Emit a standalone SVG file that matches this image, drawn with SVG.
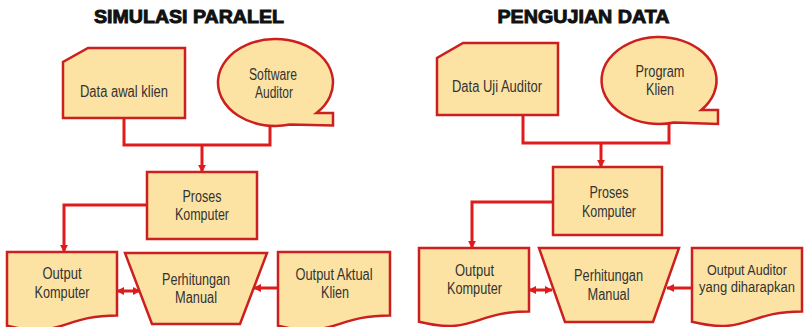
<svg xmlns="http://www.w3.org/2000/svg" width="804" height="327" viewBox="0 0 804 327">
  <style>
    .shape { fill: #FCE3A4; stroke: #CC1F1F; stroke-width: 2.5; stroke-linejoin: miter; }
    .title { font-family: "Liberation Sans", Arial, sans-serif; font-weight: bold; font-size: 18px; fill: #111; stroke: #111; stroke-width: 0.9; text-anchor: middle; }
    .lbl { font-family: "Liberation Sans", Arial, sans-serif; font-size: 16px; fill: #333; text-anchor: middle; }
    .lbl.sm { font-size: 15px; }
    .lbl.xs { font-size: 14px; }
    .wire { fill: none; stroke: #E01B1B; stroke-width: 3; }
  </style>
  <defs>
    <marker id="arrow" viewBox="0 0 10 10" refX="9" refY="5" markerWidth="8" markerHeight="8" markerUnits="userSpaceOnUse" orient="auto-start-reverse">
      <path d="M0,0 L10,5 L0,10 Z" fill="#E01B1B"/>
    </marker>
  </defs>

  <rect width="804" height="327" fill="#ffffff"/>

  <!-- Titles -->
  <text class="title" x="189" y="23" textLength="190" lengthAdjust="spacingAndGlyphs">SIMULASI PARALEL</text>
  <text class="title" x="583.5" y="23" textLength="172" lengthAdjust="spacingAndGlyphs">PENGUJIAN DATA</text>

  <!-- Connectors -->
  <g id="connectors">
    <path class="wire" d="M124,118 V145 H270 V125"/>
    <path class="wire" d="M202,145 V172" marker-end="url(#arrow)"/>
    <path class="wire" d="M147,205 H64 V252" marker-end="url(#arrow)"/>
    <path class="wire" d="M117,291 H140" marker-start="url(#arrow)" marker-end="url(#arrow)"/>
    <path class="wire" d="M278,288 H254" marker-end="url(#arrow)"/>

    <path class="wire" d="M523,115 V143 H669 V123"/>
    <path class="wire" d="M601,143 V167" marker-end="url(#arrow)"/>
    <path class="wire" d="M553,202 H472 V248" marker-end="url(#arrow)"/>
    <path class="wire" d="M529,290 H552" marker-start="url(#arrow)" marker-end="url(#arrow)"/>
    <path class="wire" d="M692,288 H667" marker-end="url(#arrow)"/>
  </g>

  <!-- Simulasi paralel -->
  <g id="data-awal-klien">
    <path class="shape" d="M88,48 H185 V118 H63 V62 Z"/>
    <text class="lbl" x="124" y="97" textLength="88" lengthAdjust="spacingAndGlyphs">Data awal klien</text>
  </g>
  <g id="software-auditor">
    <path class="shape" d="M316.5,113 H333 V125.5 L290,124.6 A57.5,43.5 0 1 1 316.5,113 Z"/>
    <text class="lbl" x="273" y="80" textLength="48" lengthAdjust="spacingAndGlyphs">Software</text>
    <text class="lbl" x="274" y="98" textLength="38" lengthAdjust="spacingAndGlyphs">Auditor</text>
  </g>
  <g id="proses-komputer-1">
    <rect class="shape" x="147" y="172" width="110" height="67"/>
    <text class="lbl" x="202" y="202" textLength="39" lengthAdjust="spacingAndGlyphs">Proses</text>
    <text class="lbl" x="202" y="220" textLength="54" lengthAdjust="spacingAndGlyphs">Komputer</text>
  </g>
  <g id="output-komputer-1">
    <path class="shape" d="M7,252 H117 V315.4 C62,315.4 62,339.5 7,325.8 Z"/>
    <text class="lbl" x="62" y="279" textLength="39" lengthAdjust="spacingAndGlyphs">Output</text>
    <text class="lbl" x="62" y="298" textLength="55" lengthAdjust="spacingAndGlyphs">Komputer</text>
  </g>
  <g id="perhitungan-manual-1">
    <path class="shape" d="M125,253 H267 L240,324 H152 Z"/>
    <text class="lbl" x="196" y="285" textLength="68" lengthAdjust="spacingAndGlyphs">Perhitungan</text>
    <text class="lbl" x="196" y="303" textLength="42" lengthAdjust="spacingAndGlyphs">Manual</text>
  </g>
  <g id="output-aktual-klien">
    <path class="shape" d="M278,252 H390 V315.4 C334,315.4 334,339.5 278,325.8 Z"/>
    <text class="lbl" x="334" y="280" textLength="77" lengthAdjust="spacingAndGlyphs">Output Aktual</text>
    <text class="lbl" x="335" y="298" textLength="28" lengthAdjust="spacingAndGlyphs">Klien</text>
  </g>

  <!-- Pengujian data -->
  <g id="data-uji-auditor">
    <path class="shape" d="M463,43 H558 V115 H437 V58 Z"/>
    <text class="lbl" x="497" y="92" textLength="90" lengthAdjust="spacingAndGlyphs">Data Uji Auditor</text>
  </g>
  <g id="program-klien">
    <path class="shape" d="M701.3,110 H718 V124 L674,122.5 A57.5,43.5 0 1 1 701.3,110 Z"/>
    <text class="lbl" x="660" y="77" textLength="49" lengthAdjust="spacingAndGlyphs">Program</text>
    <text class="lbl" x="660" y="95" textLength="28" lengthAdjust="spacingAndGlyphs">Klien</text>
  </g>
  <g id="proses-komputer-2">
    <rect class="shape" x="553" y="167" width="109" height="68"/>
    <text class="lbl" x="609" y="198" textLength="39" lengthAdjust="spacingAndGlyphs">Proses</text>
    <text class="lbl" x="609" y="217" textLength="54" lengthAdjust="spacingAndGlyphs">Komputer</text>
  </g>
  <g id="output-komputer-2">
    <path class="shape" d="M419,248 H529 V311.4 C474,311.4 474,335.5 419,321.8 Z"/>
    <text class="lbl" x="474.5" y="276" textLength="39" lengthAdjust="spacingAndGlyphs">Output</text>
    <text class="lbl" x="474.5" y="294" textLength="55" lengthAdjust="spacingAndGlyphs">Komputer</text>
  </g>
  <g id="perhitungan-manual-2">
    <path class="shape" d="M539,248 H679 L653,322 H565 Z"/>
    <text class="lbl" x="608.5" y="281" textLength="69" lengthAdjust="spacingAndGlyphs">Perhitungan</text>
    <text class="lbl" x="608.5" y="300" textLength="42" lengthAdjust="spacingAndGlyphs">Manual</text>
  </g>
  <g id="output-auditor-diharapkan">
    <path class="shape" d="M692,248 H802 V311.4 C747,311.4 747,335.5 692,321.8 Z"/>
    <text class="lbl sm" x="747" y="275" textLength="80" lengthAdjust="spacingAndGlyphs">Output Auditor</text>
    <text class="lbl xs" x="747" y="292" textLength="96" lengthAdjust="spacingAndGlyphs">yang diharapkan</text>
  </g>
</svg>
